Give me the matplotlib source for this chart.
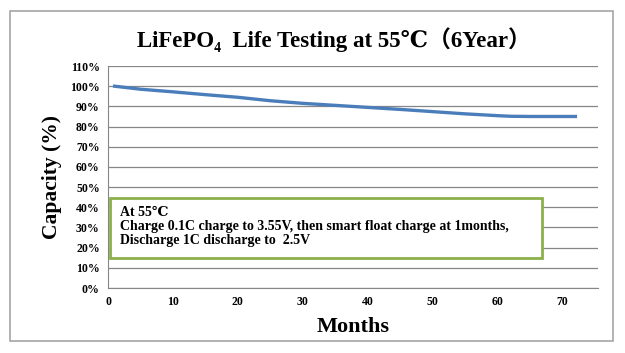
import matplotlib.pyplot as plt
from matplotlib.patches import Rectangle
from matplotlib.ticker import PercentFormatter

# data
months = [1, 5, 10, 15, 20, 25, 30, 35, 40, 45, 50, 55, 60, 62, 65, 70, 72]
capacity = [100, 98.5, 97.2, 95.8, 94.5, 92.8, 91.5, 90.5, 89.5, 88.5, 87.4, 86.3, 85.4, 85.1, 85.0, 85.0, 85.0]
x_ticks = [0, 10, 20, 30, 40, 50, 60, 70]
y_ticks = list(range(0, 111, 10))

serif = ['Liberation Serif', 'DejaVu Serif', 'Noto Sans CJK SC']
plt.rcParams['font.family'] = serif

fig = plt.figure(figsize=(6.25, 3.53), dpi=100)
fig.patches.append(Rectangle((0.016, 0.035), 0.965, 0.935, transform=fig.transFigure,
                             fill=False, edgecolor='#a6a6a6', linewidth=1.2))

ax = fig.add_axes([0.173, 0.184, 0.784, 0.629])
ax.plot(months, capacity, color='#4a7ebb', linewidth=2.4)

ax.set_xlim(0, 75.5)
ax.set_ylim(0, 110)
ax.set_xticks(x_ticks)
ax.set_yticks(y_ticks)
ax.yaxis.set_major_formatter(PercentFormatter(decimals=0))
ax.grid(axis='y', color='#868686', linewidth=0.9)
ax.set_axisbelow(True)
for s in ['top', 'right']:
    ax.spines[s].set_visible(False)
ax.spines['left'].set_color('#868686')
ax.spines['bottom'].set_color('#868686')
ax.tick_params(length=0, labelsize=8.5, pad=6)
for lbl in ax.get_xticklabels() + ax.get_yticklabels():
    lbl.set_fontweight('bold')

ax.set_xlabel('Months', fontsize=16, fontweight='bold', labelpad=6)
ax.set_ylabel('Capacity (%)', fontsize=15.5, fontweight='bold', labelpad=6)
fig.text(0.535, 0.887, 'LiFePO\u2084  Life Testing at 55℃（6Year）', ha='center', va='center',
         fontsize=16.5, fontweight='bold', family=serif)

note = ('At 55℃\n'
        'Charge 0.1C charge to 3.55V, then smart float charge at 1months,\n'
        'Discharge 1C discharge to  2.5V')
ax.add_patch(Rectangle((0.3, 15), 66.5, 29.5, facecolor='white', edgecolor='#8cb04a',
                       linewidth=2, zorder=3))
ax.text(1.8, 40.5, note, fontsize=10, fontweight='bold', va='top', ha='left',
        linespacing=1.1, zorder=4, family=serif)

fig.savefig('out.png', dpi=100)
